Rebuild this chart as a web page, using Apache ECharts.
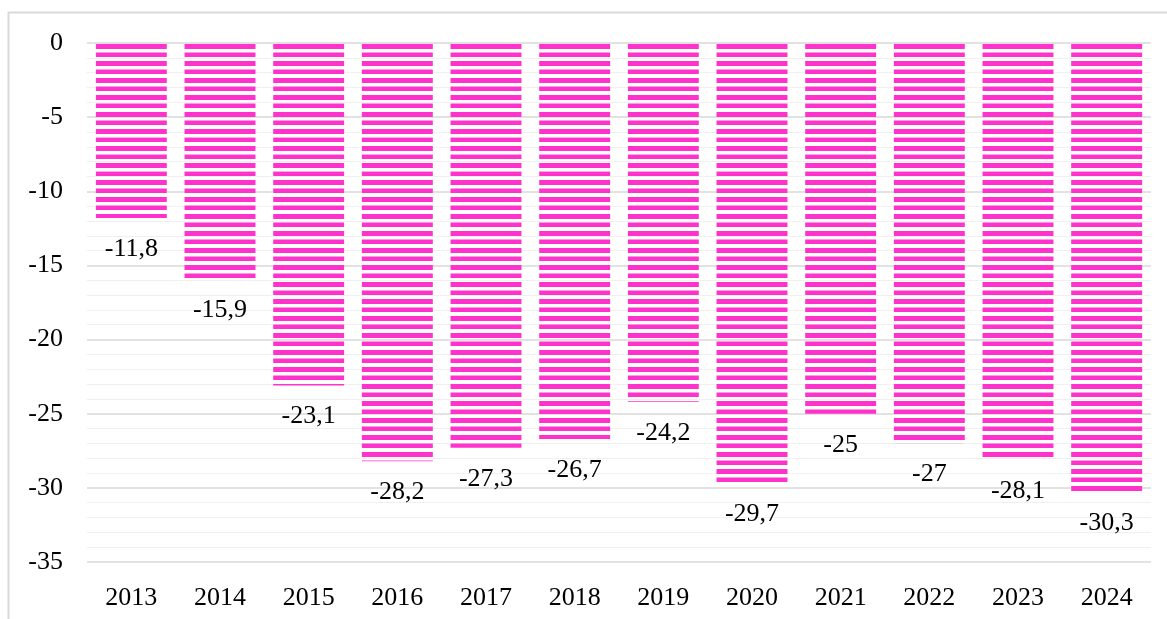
<!DOCTYPE html>
<html>
<head>
<meta charset="utf-8">
<script src="https://cdn.jsdelivr.net/npm/echarts@6/dist/echarts.min.js"></script>
<style>
  html, body { margin: 0; padding: 0; background: #fff; }
  #chart { width: 1167px; height: 619px; }
</style>
</head>
<body>
<div id="chart"></div>
<script>
var years = ["2013", "2014", "2015", "2016", "2017", "2018", "2019", "2020", "2021", "2022", "2023", "2024"];
var values = [-11.8, -15.9, -23.1, -28.2, -27.3, -26.7, -24.2, -29.7, -25, -27, -28.1, -30.3];
var yMin = -35;
var yMax = 0;
var yStep = 5;

// полосатая заливка столбцов
var stripe = document.createElement("canvas");
stripe.width = 4;
stripe.height = 170;
var sctx = stripe.getContext("2d");
sctx.fillStyle = "#ff33cc";
sctx.fillRect(0, 0, 4, 94);

var myChart = echarts.init(document.getElementById("chart"), null, { renderer: "canvas" });

var option = {
  animation: false,
  textStyle: { fontFamily: "Liberation Serif" },
  graphic: [
    {
      type: "rect",
      silent: true,
      z: -10,
      shape: { x: 8.5, y: 12.5, width: 1300, height: 700 },
      style: { fill: "none", stroke: "#d9d9d9", lineWidth: 2 },
    },
  ],
  grid: {
    left: 87,
    right: 16,
    top: 43,
    bottom: 57,
  },
  xAxis: {
    type: "category",
    data: years,
    axisLine: { show: false },
    axisTick: { show: false },
    axisLabel: {
      color: "#000",
      fontSize: 26,
      margin: 23,
      fontFamily: "Liberation Serif",
    },
  },
  yAxis: {
    type: "value",
    min: yMin,
    max: yMax,
    interval: yStep,
    axisLine: { show: false },
    axisTick: { show: false },
    axisLabel: {
      color: "#000",
      fontSize: 26,
      margin: 24,
      fontFamily: "Liberation Serif",
    },
    splitLine: {
      show: true,
      lineStyle: { color: "#d9d9d9", width: 1.5 },
    },
    minorTick: { show: false, splitNumber: 5 },
    minorSplitLine: {
      show: true,
      lineStyle: { color: "#f0f0f0", width: 1 },
    },
  },
  series: [
    {
      type: "bar",
      data: values,
      barCategoryGap: "20%",
      itemStyle: {
        color: {
          image: stripe,
          repeat: "repeat",
          x: 0,
          y: 44,
          scaleX: 1,
          scaleY: 0.05,
        },
      },
      label: {
        show: true,
        position: "bottom",
        distance: 18,
        color: "#000",
        fontSize: 26,
        fontFamily: "Liberation Serif",
        formatter: function (p) {
          return String(p.value).replace(".", ",");
        },
      },
    },
  ],
};

myChart.setOption(option);
</script>
</body>
</html>
